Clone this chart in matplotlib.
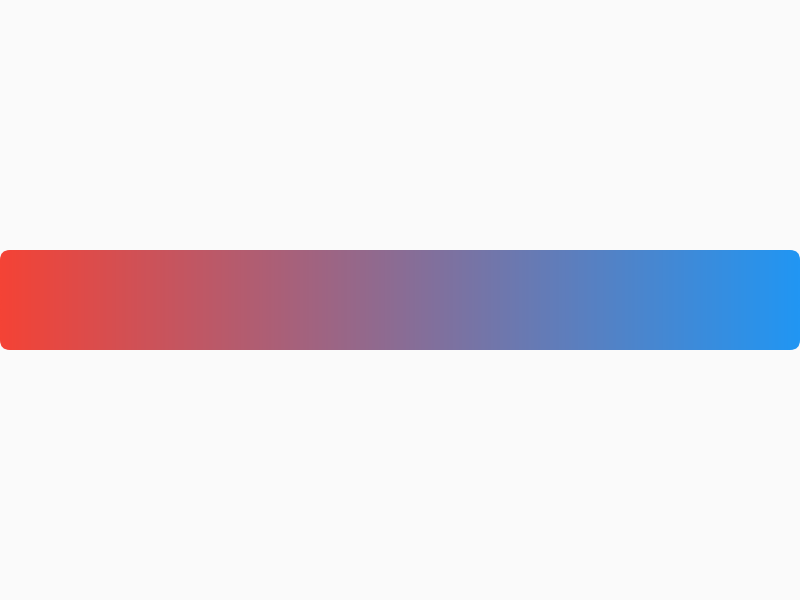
import matplotlib.pyplot as plt
import numpy as np
from matplotlib.colors import LinearSegmentedColormap
from matplotlib.patches import FancyBboxPatch

start_color = '#F44336'
end_color = '#2196F3'
bar_left, bar_right = 0, 800
bar_top, bar_bottom = 250, 350

fig = plt.figure(figsize=(8, 6), dpi=100, facecolor='#FAFAFA')
ax = fig.add_axes([0, 0, 1, 1])
ax.set_xlim(0, 800)
ax.set_ylim(600, 0)
ax.axis('off')
ax.set_facecolor('#FAFAFA')

cmap = LinearSegmentedColormap.from_list('grad', [start_color, end_color])
grad = np.linspace(0, 1, 512).reshape(1, -1)
im = ax.imshow(grad, cmap=cmap, aspect='auto',
               extent=(bar_left, bar_right, bar_bottom, bar_top))

clip = FancyBboxPatch((bar_left, bar_top), bar_right - bar_left, bar_bottom - bar_top,
                      boxstyle='round,pad=0,rounding_size=10',
                      facecolor='none', edgecolor='none', transform=ax.transData)
ax.add_patch(clip)
im.set_clip_path(clip)
ax.set_xlim(0, 800)
ax.set_ylim(600, 0)

fig.savefig('out.png', dpi=100, facecolor='#FAFAFA')
